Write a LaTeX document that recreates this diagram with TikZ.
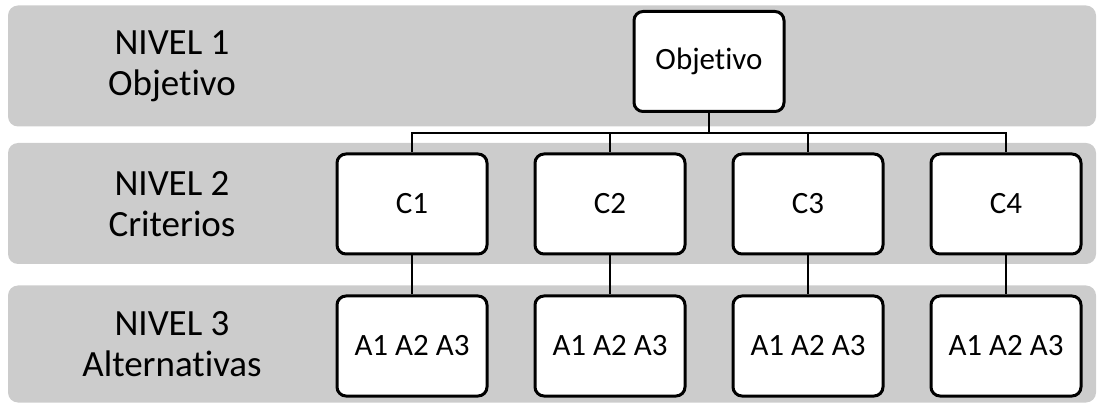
\documentclass[tikz,border=0pt]{standalone}
\usepackage{fontspec}
\setmainfont[Ligatures=NoCommon]{Carlito}
\usepackage{xcolor}
\usetikzlibrary{shapes,positioning}
\definecolor{bandgray}{RGB}{204,204,204}
\tikzstyle{band} = [rectangle, fill=bandgray, rounded corners=10pt, minimum width=1088pt, minimum height=121pt, inner sep=0pt]
\tikzstyle{level} = [align=center, font=\fontsize{37}{41}\selectfont]
\tikzstyle{block} = [rectangle, draw, line width=3pt, fill=white, text centered, rounded corners=9pt, minimum width=150pt, minimum height=100pt, font=\fontsize{31}{37}\selectfont]
\tikzstyle{line} = [draw, line width=2pt]

\begin{document}
\begin{tikzpicture}[x=1pt, y=-1pt, node distance=198pt]
\useasboundingbox (0,0) rectangle (1100,403);
\node [band] (band1) at (552,66) {};
\node [band] (band2) at (552,203.5) {};
\node [band, minimum height=117pt] (band3) at (552,344) {};

\node [level] (lvl1) at (172,66) {NIVEL 1\\Objetivo};
\node [level] (lvl2) at (172,204) {NIVEL 2\\Criterios};
\node [level] (lvl3) at (172,344) {NIVEL 3\\Alternativas};

\node [block] (obj) at (709,61.5) {Objetivo};
\node [block] (c1) at (412,204) {C1};
\node [block, right of=c1] (c2) {C2};
\node [block, right of=c2] (c3) {C3};
\node [block, right of=c3] (c4) {C4};
\node [block, below of=c1, node distance=142pt] (a1) {A1 A2 A3};
\node [block, below of=c2, node distance=142pt] (a2) {A1 A2 A3};
\node [block, below of=c3, node distance=142pt] (a3) {A1 A2 A3};
\node [block, below of=c4, node distance=142pt] (a4) {A1 A2 A3};

\foreach \i in {1,...,4} {
  \path [line] (obj.south) -- ++(0,20) -| (c\i.north);
  \path [line] (c\i.south) -- (a\i.north);
}
\end{tikzpicture}
\end{document}
